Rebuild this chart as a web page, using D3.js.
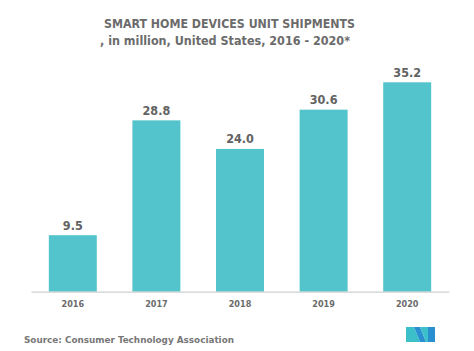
<!DOCTYPE html>
<html>
<head>
<meta charset="utf-8">
<script src="https://cdn.jsdelivr.net/npm/d3@7"></script>
<style>
  html, body { margin: 0; padding: 0; background: #ffffff; }
  svg { display: block; }
  text { font-family: "DejaVu Sans Condensed", "DejaVu Sans", sans-serif; }
</style>
</head>
<body>
<svg id="chart" width="474" height="351"></svg>
<script>
const years = ["2016", "2017", "2018", "2019", "2020"];
const shipments = [9.5, 28.8, 24.0, 30.6, 35.2];
const titleLines = ["SMART HOME DEVICES UNIT SHIPMENTS", ", in million, United States, 2016 - 2020*"];
const sourceText = "Source: Consumer Technology Association";

const svg = d3.select("#chart");
svg.append("rect").attr("width", 474).attr("height", 351).attr("fill", "#ffffff");

const x = d3.scaleBand().domain(years).range([31, 449]).paddingInner(0.426).paddingOuter(0.213);
const y = d3.scaleLinear().domain([0, 35.2]).range([291.7, 82.3]);

svg.append("text").attr("x", 229.5).attr("y", 28).attr("text-anchor", "middle")
  .attr("font-size", 11.5).attr("font-weight", "bold").attr("fill", "#6b6b6b")
  .attr("textLength", 251).attr("lengthAdjust", "spacingAndGlyphs").text(titleLines[0]);
svg.append("text").attr("x", 225).attr("y", 45).attr("text-anchor", "middle")
  .attr("font-size", 11.5).attr("font-weight", "bold").attr("fill", "#6b6b6b")
  .attr("textLength", 250).attr("lengthAdjust", "spacingAndGlyphs").text(titleLines[1]);

svg.selectAll("rect.bar").data(shipments).join("rect").attr("class", "bar")
  .attr("x", (d, i) => x(years[i])).attr("width", x.bandwidth())
  .attr("y", d => y(d)).attr("height", d => y(0) - y(d))
  .attr("fill", "#53c4cb");

svg.selectAll("text.val").data(shipments).join("text").attr("class", "val")
  .attr("x", (d, i) => x(years[i]) + x.bandwidth() / 2)
  .attr("y", d => y(d) - 5.5)
  .attr("text-anchor", "middle").attr("font-size", 12.5).attr("font-weight", "bold")
  .attr("fill", "#626262").text(d => d.toFixed(1));

const axis = svg.append("g").attr("transform", `translate(0,${y(0)})`)
  .call(d3.axisBottom(x).tickSize(0).tickPadding(9));
axis.select(".domain").attr("stroke", "#d0d0d0").attr("stroke-width", 1.2);
axis.selectAll("text").attr("font-size", 9).attr("font-weight", "bold").attr("fill", "#6b6b6b")
  .attr("font-family", "\"DejaVu Sans Condensed\", sans-serif");

svg.append("text").attr("x", 24).attr("y", 342.5).attr("font-size", 9.5).attr("font-weight", "bold")
  .attr("fill", "#777777").attr("textLength", 210).attr("lengthAdjust", "spacingAndGlyphs").text(sourceText);

// logo
const logo = svg.append("g").attr("transform", "translate(406,327)");
logo.append("path").attr("d", "M0,0 L8,0 L14,15 L0,15 Z").attr("fill", "#3bbfc8");
logo.append("path").attr("d", "M8,0 L14,0 L20,15 L14,15 Z").attr("fill", "#2a8fd0");
logo.append("path").attr("d", "M14,0 L22,0 L22,15 L20,15 Z").attr("fill", "#3bbfc8");
logo.append("path").attr("d", "M22,0 L29,0 L29,15 L22,15 Z").attr("fill", "#2a8fd0");
</script>
</body>
</html>
